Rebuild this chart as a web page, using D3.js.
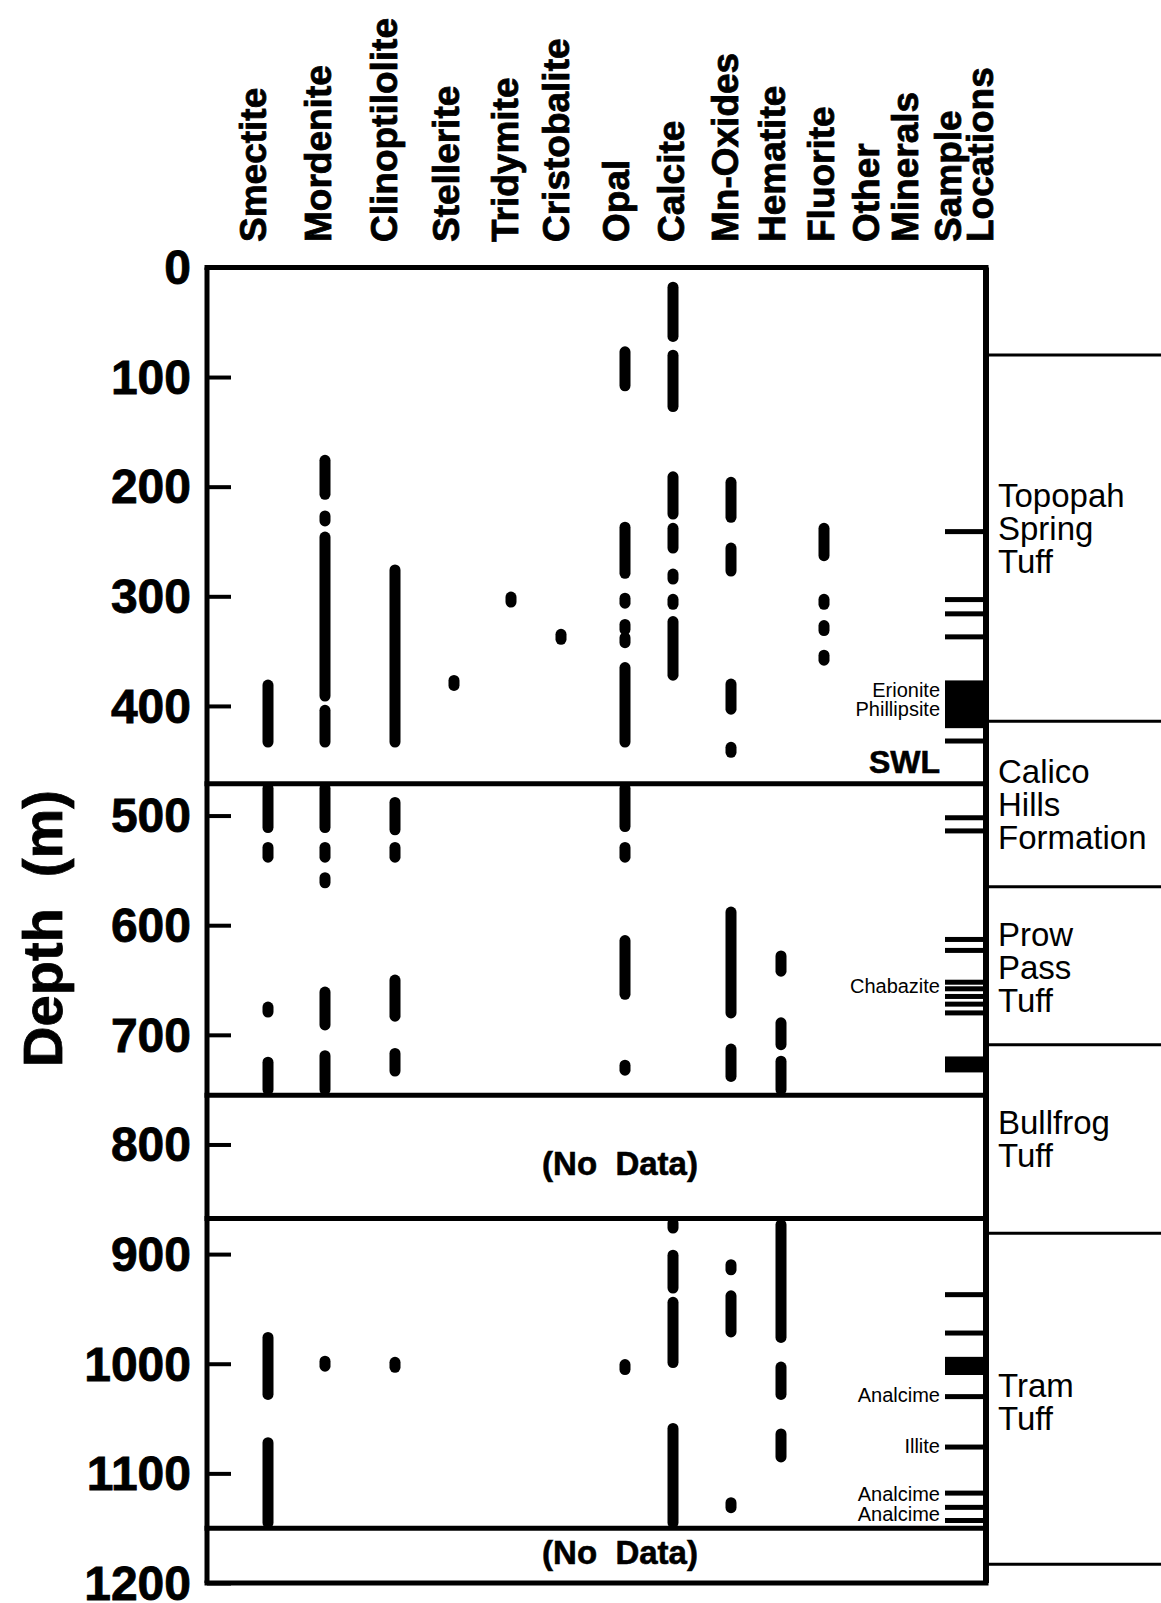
<!DOCTYPE html>
<html>
<head>
<meta charset="utf-8">
<script src="https://cdn.jsdelivr.net/npm/d3@7"></script>
<style>
  body { margin: 0; background: #fff; }
  svg { display: block; font-family: "Liberation Sans", Arial, Helvetica, sans-serif; }
</style>
</head>
<body>
<div id="chart"></div>
<script>
///////////////////////////////////////////////////////////////////////////////
//// Data /////////////////////////////////////////////////////////////////////
///////////////////////////////////////////////////////////////////////////////
const minerals = ["Smectite", "Mordenite", "Clinoptilolite", "Stellerite",
  "Tridymite", "Cristobalite", "Opal", "Calcite", "Mn-Oxides", "Hematite", "Fluorite"];
const extraColumns = ["Other", "Minerals", "Sample", "Locations"];
const depthTicks = [0, 100, 200, 300, 400, 500, 600, 700, 800, 900, 1000, 1100, 1200];

// occurrence intervals, [top, bottom] depth in m (equal ends = single sample)
const smectite = [[376, 438], [470, 516], [524, 543], [677, 677], [720, 755], [971, 1033], [1067, 1150]];
const mordenite = [[171, 212], [229, 229], [241, 396], [399, 438], [470, 516], [524, 543], [559, 559],
  [656, 696], [714, 755], [1000, 1000]];
const clinoptilolite = [[271, 438], [483, 518], [524, 543], [645, 688], [712, 738], [1001, 1001]];
const stellerite = [[379, 379]];
const tridymite = [[303, 303]];
const cristobalite = [[337, 337]];
const opal = [[72, 113], [232, 284], [304, 304], [328, 328], [340, 340], [360, 438], [470, 515],
  [524, 543], [609, 668], [730, 730], [1003, 1003]];
const calcite = [[13, 68], [75, 132], [186, 230], [233, 261], [282, 282], [305, 305], [318, 377],
  [868, 880], [896, 936], [939, 1004], [1054, 1150]];
const mnOxides = [[191, 233], [251, 282], [375, 408], [440, 440], [583, 685], [708, 743],
  [912, 912], [933, 976], [1129, 1129]];
const hematite = [[623, 647], [684, 714], [719, 755], [868, 981], [998, 1033], [1059, 1090]];
const fluorite = [[233, 268], [305, 305], [329, 329], [356, 356]];

const sampleLocations = [[241, 241], [303, 303], [316, 316], [337, 337], [379, 418], [432, 432],
  [502, 502], [514, 514], [613, 613], [623, 623], [652, 652], [658, 658], [665, 665], [672, 672],
  [680, 680], [722, 732], [937, 937], [972, 972], [996, 1008], [1030, 1030], [1076, 1076],
  [1118, 1118], [1131, 1131], [1143, 1143]];
const otherMinerals = ["Erionite", "Phillipsite", "Chabazite", "Analcime", "Illite", "Analcime", "Analcime"];
const otherMineralDepths = [386, 403, 656, 1029, 1075, 1119, 1137];

const zoneBreaks = [0, 471, 755, 867.5, 1150, 1200];
const noDataDepths = [817, 1172];
const swlDepth = 451;

const formationBreaks = [80, 414, 565, 709, 881, 1183];
const formations = [["Topopah", "Spring", "Tuff"], ["Calico", "Hills", "Formation"],
  ["Prow", "Pass", "Tuff"], ["Bullfrog", "Tuff"], ["Tram", "Tuff"]];
const formationLabelDepths = [238, 490, 638, 795, 1035];

const occurrences = [smectite, mordenite, clinoptilolite, stellerite, tridymite, cristobalite,
  opal, calcite, mnOxides, hematite, fluorite];

///////////////////////////////////////////////////////////////////////////////
//// Set Up ///////////////////////////////////////////////////////////////////
///////////////////////////////////////////////////////////////////////////////
const width = 1161, height = 1603;
const frameLeft = 207, frameRight = 986;
const sampleLeft = 945;

const y = d3.scaleLinear()
    .domain([0, 1200])
    .range([267.4, 1583]);

const x = d3.scaleOrdinal()
    .domain(minerals)
    .range([268, 325, 395, 454, 511, 561, 625, 673, 731, 781, 824]);

const headerX = d3.scaleOrdinal()
    .domain(minerals.concat(extraColumns))
    .range([253, 318, 384, 446, 505, 556, 616, 671, 725, 772, 821, 866, 905, 948, 980]);

const svg = d3.select("#chart")
  .append("svg")
    .attr("width", width)
    .attr("height", height);

svg.append("rect")
    .attr("width", width)
    .attr("height", height)
    .attr("fill", "#fff");

///////////////////////////////////////////////////////////////////////////////
// Column headers
svg.append("g")
  .selectAll("text")
  .data(minerals.concat(extraColumns))
  .enter()
  .append("text")
    .attr("transform", d => `translate(${headerX(d)}, 242) rotate(-90)`)
    .attr("dy", "0.36em")
    .attr("font-size", 37)
    .attr("font-weight", "bold")
    .attr("stroke", "#000")
    .attr("stroke-width", 0.8)
    .text(d => d);

///////////////////////////////////////////////////////////////////////////////
// Depth axis
const yAxis = svg.append("g")
    .attr("transform", `translate(${frameLeft}, 0)`)
    .call(d3.axisLeft(y)
      .tickValues(depthTicks)
      .tickSizeInner(-24)
      .tickSizeOuter(0)
      .tickPadding(16)
      .tickFormat(d3.format("d")));

yAxis.select(".domain").remove();
yAxis.attr("font-family", null)
    .attr("font-size", 48)
    .attr("font-weight", "bold");
yAxis.selectAll(".tick line")
    .attr("stroke", "#000")
    .attr("stroke-width", 4);
yAxis.selectAll(".tick text")
    .attr("fill", "#000")
    .attr("stroke", "#000")
    .attr("stroke-width", 0.8)
    .attr("dy", "0.34em");

svg.append("text")
    .attr("transform", `translate(42, ${y(603)}) rotate(-90)`)
    .attr("text-anchor", "middle")
    .attr("dy", "0.36em")
    .attr("font-size", 56)
    .attr("font-weight", "bold")
    .attr("stroke", "#000")
    .attr("stroke-width", 0.8)
    .style("white-space", "pre")
    .text("Depth  (m)");

///////////////////////////////////////////////////////////////////////////////
// Frame and zone breaks
svg.append("g")
  .selectAll("line")
  .data(zoneBreaks)
  .enter()
  .append("line")
    .attr("x1", frameLeft)
    .attr("x2", frameRight)
    .attr("y1", d => y(d))
    .attr("y2", d => y(d))
    .attr("stroke", "#000")
    .attr("stroke-width", 5)
    .attr("stroke-linecap", "square");

svg.append("line")
    .attr("x1", frameLeft).attr("x2", frameLeft)
    .attr("y1", y(0)).attr("y2", y(1200))
    .attr("stroke", "#000")
    .attr("stroke-width", 5);

svg.append("line")
    .attr("x1", frameRight).attr("x2", frameRight)
    .attr("y1", y(0)).attr("y2", y(1200))
    .attr("stroke", "#000")
    .attr("stroke-width", 6);

svg.append("g")
  .selectAll("text")
  .data(noDataDepths)
  .enter()
  .append("text")
    .attr("x", 620)
    .attr("y", d => y(d))
    .attr("dy", "0.36em")
    .attr("text-anchor", "middle")
    .attr("font-size", 33)
    .attr("font-weight", "bold")
    .attr("stroke", "#000")
    .attr("stroke-width", 0.6)
    .style("white-space", "pre")
    .text("(No  Data)");

svg.append("text")
    .attr("x", 940)
    .attr("y", y(swlDepth))
    .attr("dy", "0.36em")
    .attr("text-anchor", "end")
    .attr("font-size", 32)
    .attr("font-weight", "bold")
    .attr("stroke", "#000")
    .attr("stroke-width", 0.6)
    .text("SWL");

///////////////////////////////////////////////////////////////////////////////
// Mineral occurrences
const markR = 5.5;

function segEnds(d) {
  let y1 = y(d[0]) + markR, y2 = y(d[1]) - markR;
  if (y2 - y1 < 5) {
    const c = (y(d[0]) + y(d[1])) / 2;
    y1 = c - 2.5;
    y2 = c + 2.5;
  }
  return [y1, y2];
}

const columns = svg.append("g")
  .selectAll("g")
  .data(minerals)
  .enter()
  .append("g");

columns.selectAll("line")
  .data((d, i) => occurrences[i].map(r => ({mineral: d, range: r})))
  .enter()
  .append("line")
    .attr("x1", d => x(d.mineral))
    .attr("x2", d => x(d.mineral))
    .attr("y1", d => segEnds(d.range)[0])
    .attr("y2", d => segEnds(d.range)[1])
    .attr("stroke", "#000")
    .attr("stroke-width", 11)
    .attr("stroke-linecap", "round");

///////////////////////////////////////////////////////////////////////////////
// Sample locations
svg.append("g")
  .selectAll("rect")
  .data(sampleLocations)
  .enter()
  .append("rect")
    .attr("x", sampleLeft)
    .attr("width", frameRight - sampleLeft)
    .attr("y", d => y(d[0]) - 2.5)
    .attr("height", d => y(d[1]) - y(d[0]) + 5)
    .attr("fill", "#000");

svg.append("g")
  .selectAll("text")
  .data(otherMinerals)
  .enter()
  .append("text")
    .attr("x", 940)
    .attr("y", (d, i) => y(otherMineralDepths[i]))
    .attr("dy", "0.34em")
    .attr("text-anchor", "end")
    .attr("font-size", 20)
    .text(d => d);

///////////////////////////////////////////////////////////////////////////////
// Formations
svg.append("g")
  .selectAll("line")
  .data(formationBreaks)
  .enter()
  .append("line")
    .attr("x1", frameRight)
    .attr("x2", 1161)
    .attr("y1", d => y(d))
    .attr("y2", d => y(d))
    .attr("stroke", "#000")
    .attr("stroke-width", 3);

const formationLabels = svg.append("g")
  .selectAll("text")
  .data(formations)
  .enter()
  .append("text")
    .attr("font-size", 33)
    .attr("transform", (d, i) =>
      `translate(998, ${y(formationLabelDepths[i]) - (d.length - 1) * 33 / 2})`);

formationLabels.selectAll("tspan")
  .data(d => d)
  .enter()
  .append("tspan")
    .attr("x", 0)
    .attr("y", (d, i) => i * 33)
    .attr("dy", "0.36em")
    .text(d => d);
</script>
</body>
</html>
